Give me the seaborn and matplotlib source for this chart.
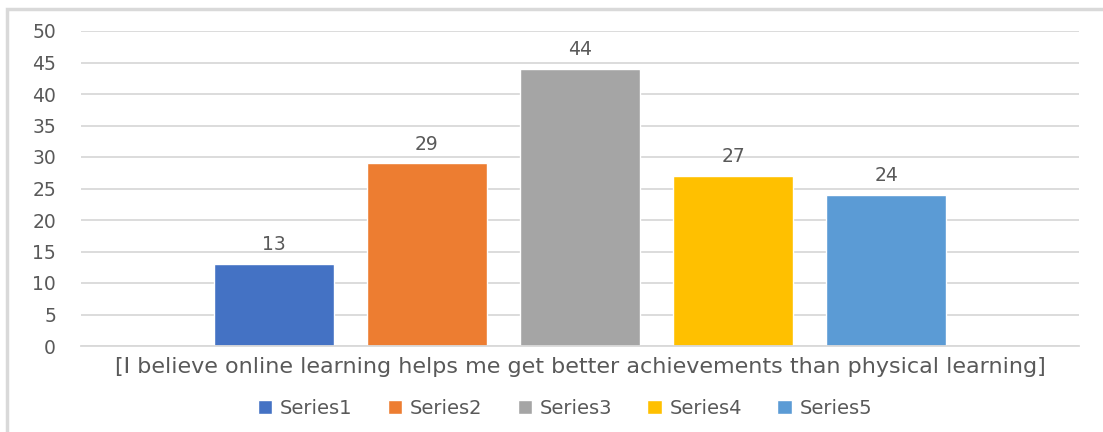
import numpy as np
import pandas as pd
import matplotlib
matplotlib.use("Agg")
import matplotlib.pyplot as plt
from matplotlib.patches import Rectangle
import seaborn as sns

# data
question = "[I believe online learning helps me get better achievements than physical learning]"
series = ["Series1", "Series2", "Series3", "Series4", "Series5"]
counts = [13, 29, 44, 27, 24]
colors = ["#4472C4", "#ED7D31", "#A5A5A5", "#FFC000", "#5B9BD5"]
yticks = [0, 5, 10, 15, 20, 25, 30, 35, 40, 45, 50]

df = pd.DataFrame({"q": [question] * len(series), "Series": series, "Count": counts})

sns.set_style("white")
plt.rcParams["font.family"] = ["DejaVu Sans"]
txt = "#595959"
grid = "#D9D9D9"

fig = plt.figure(figsize=(11.03, 4.32), dpi=100)
ax = fig.add_axes([81 / 1103, 1 - 346 / 432, 998 / 1103, 315 / 432])

sns.barplot(data=df, x="q", y="Count", hue="Series", palette=colors,
            width=0.767, gap=0.217, ax=ax, legend=True, saturation=1)

ax.set_ylim(0, 50)
ax.set_xlim(-0.5, 0.5)
ax.set_yticks(yticks)
ax.yaxis.grid(True, color=grid, linewidth=1.3)
ax.set_axisbelow(True)
for s in ["top", "right", "left"]:
    ax.spines[s].set_visible(False)
ax.spines["bottom"].set_color(grid)
ax.spines["bottom"].set_linewidth(1.3)
ax.tick_params(axis="y", length=0, labelsize=13.5, labelcolor=txt, pad=18)
ax.tick_params(axis="x", length=0, labelsize=16, labelcolor=txt, pad=8)
ax.set_xlabel("")
ax.set_ylabel("")

for c in ax.containers:
    ax.bar_label(c, labels=[str(int(v)) for v in c.datavalues],
                 padding=7, fontsize=13.5, color=txt)

leg = ax.legend(loc="upper center", bbox_to_anchor=(0.485, -0.112), ncol=5,
                frameon=False, fontsize=14, handlelength=0.75, handleheight=0.7,
                handletextpad=0.4, columnspacing=1.8, labelcolor=txt)

# outer chart frame
fig.patches.append(Rectangle((7 / 1103, -0.05), 1.1, 1 - 9 / 432 + 0.05,
                             transform=fig.transFigure, fill=False,
                             edgecolor=grid, linewidth=2.5))

plt.savefig("out.png", dpi=100)
